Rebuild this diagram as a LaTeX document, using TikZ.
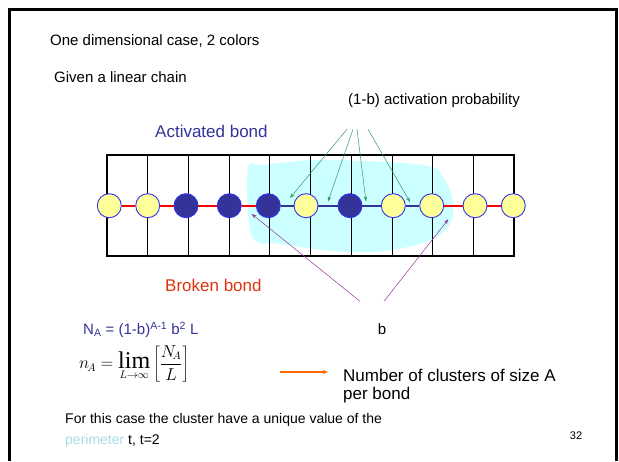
\documentclass[tikz,border=0pt]{standalone}
\usepackage{fontspec}
\setmainfont{Liberation Sans}
\newfontfamily\limfont{Liberation Serif}
\usetikzlibrary{arrows.meta,backgrounds}
\definecolor{darkblue}{HTML}{333399}
\definecolor{rimblue}{HTML}{3333EE}
\definecolor{paleyellow}{HTML}{FFFF99}
\definecolor{blobcyan}{HTML}{CCFFFF}
\definecolor{actgreen}{HTML}{339966}
\definecolor{bpurple}{HTML}{993399}
\definecolor{brokenred}{HTML}{DD3311}
\definecolor{arrorange}{HTML}{FF6600}
\definecolor{peri}{HTML}{A8DDE6}
\tikzset{
  site/.style={circle, draw=rimblue, line width=0.9pt, minimum size=24pt, inner sep=0pt},
  yel/.style={site, fill=paleyellow},
  dark/.style={site, fill=darkblue},
  txt/.style={anchor=west, inner sep=0pt, font=\fontsize{15}{18}\selectfont},
  bigtxt/.style={txt, font=\fontsize{17}{20}\selectfont},
}
\begin{document}
\begin{tikzpicture}[x=1pt, y=-1pt]
  \useasboundingbox (0,0) rectangle (619,461);
  % slide frame
  \draw[line width=2.5pt] (9.7,461) -- (9.7,9.7) -- (616.5,9.7) -- (616.5,461);
  % texts
  \node[txt] (title) at (50,41) {One dimensional case, 2 colors};
  \node[txt] (given) at (54,77) {Given a linear chain};
  \node[txt] (act) at (348,101) {(1-b) activation probability};
  \node[bigtxt, text=darkblue] (actbond) at (155,131) {Activated bond};
  \node[bigtxt, text=brokenred] (broken) at (165,285) {Broken bond};
  \node[txt, anchor=center] (b) at (382,329) {b};
  % sites of the chain
  \foreach \x/\c [count=\i] in {109.3/yel, 147.7/yel, 186/dark, 229.3/dark, 268.3/dark, 306/yel,
      350/dark, 393.3/yel, 431.7/yel, 475/yel, 513.3/yel}
    \node[\c] (s\i) at (\x,205.7) {};
  \begin{scope}[on background layer]
    \fill[blobcyan] plot[smooth cycle, tension=0.6] coordinates {(248,168) (263,165) (323,160)
      (423,165) (443,177) (453,203) (448,227) (423,243) (373,252) (323,250) (273,243)
      (262,244) (250,230)};
    \draw[line width=1.2pt] (107,155) rectangle (514,256);
    \foreach \i in {1,...,9} \draw[line width=0.8pt] (107+40.7*\i,155) -- ++(0,101);
    \foreach \a/\b in {1/2, 2/3, 3/4, 4/5, 9/10, 10/11} \draw[red, line width=1.6pt] (s\a) -- (s\b);
    \foreach \a/\b in {5/6, 6/7, 7/8, 8/9} \draw[darkblue, line width=2.2pt] (s\a) -- (s\b);
  \end{scope}
  % activation arrows
  \coordinate (t1) at (290,198);
  \coordinate (t2) at (328,201.5);
  \coordinate (t3) at (366,201.5);
  \coordinate (t4) at (410,202);
  \foreach \dx/\t in {-1/t1, 5/t2, 9/t3, 20/t4}
    \draw[actgreen, line width=0.5pt, -{Stealth[length=5pt,width=3.5pt]}]
      ([xshift=\dx pt, yshift=-21pt]act.south west) -- (\t);
  % broken bond arrows
  \coordinate (p1) at (251.7,214);
  \coordinate (p2) at (448.3,219.3);
  \draw[bpurple, line width=0.5pt, -{Stealth[length=5pt,width=3.5pt]}] ([xshift=-22pt, yshift=22pt]b.north) -- (p1);
  \draw[bpurple, line width=0.5pt, -{Stealth[length=5pt,width=3.5pt]}] ([xshift=2pt, yshift=22pt]b.north) -- (p2);
  % formulas
  \node[txt, text=darkblue] (na) at (83,329.5) {N\textsubscript{A} = (1-b)\textsuperscript{A-1} b\textsuperscript{2} L};
  \node[txt, font=\fontsize{16}{18}\selectfont] (lim) at (79,364)
    {$\displaystyle n_{\!A}=\mathop{\hbox{\limfont\fontsize{24}{24}\selectfont lim}}\limits_{L\to\infty}\left[\frac{N_{\!A}}{L}\right]$};
  \node[bigtxt] (num) at (343,375) {Number of clusters of size A};
  \node[bigtxt] (perbond) at (343,395) {per bond};
  \draw[arrorange, line width=1.5pt, -{Stealth[length=5pt,width=4pt]}] ([xshift=-63pt, yshift=3pt]num.west) -- ([xshift=-15pt, yshift=3pt]num.west);
  \node[txt, font=\fontsize{14}{17}\selectfont] (forcase) at (65,420) {For this case the cluster have a unique value of the};
  \node[txt, font=\fontsize{14}{17}\selectfont] (perim) at (65,441) {\textcolor{peri}{perimeter} t, t=2};
  \node[txt, anchor=center, font=\fontsize{11}{13}\selectfont] (page) at (576,436) {32};
\end{tikzpicture}
\end{document}
